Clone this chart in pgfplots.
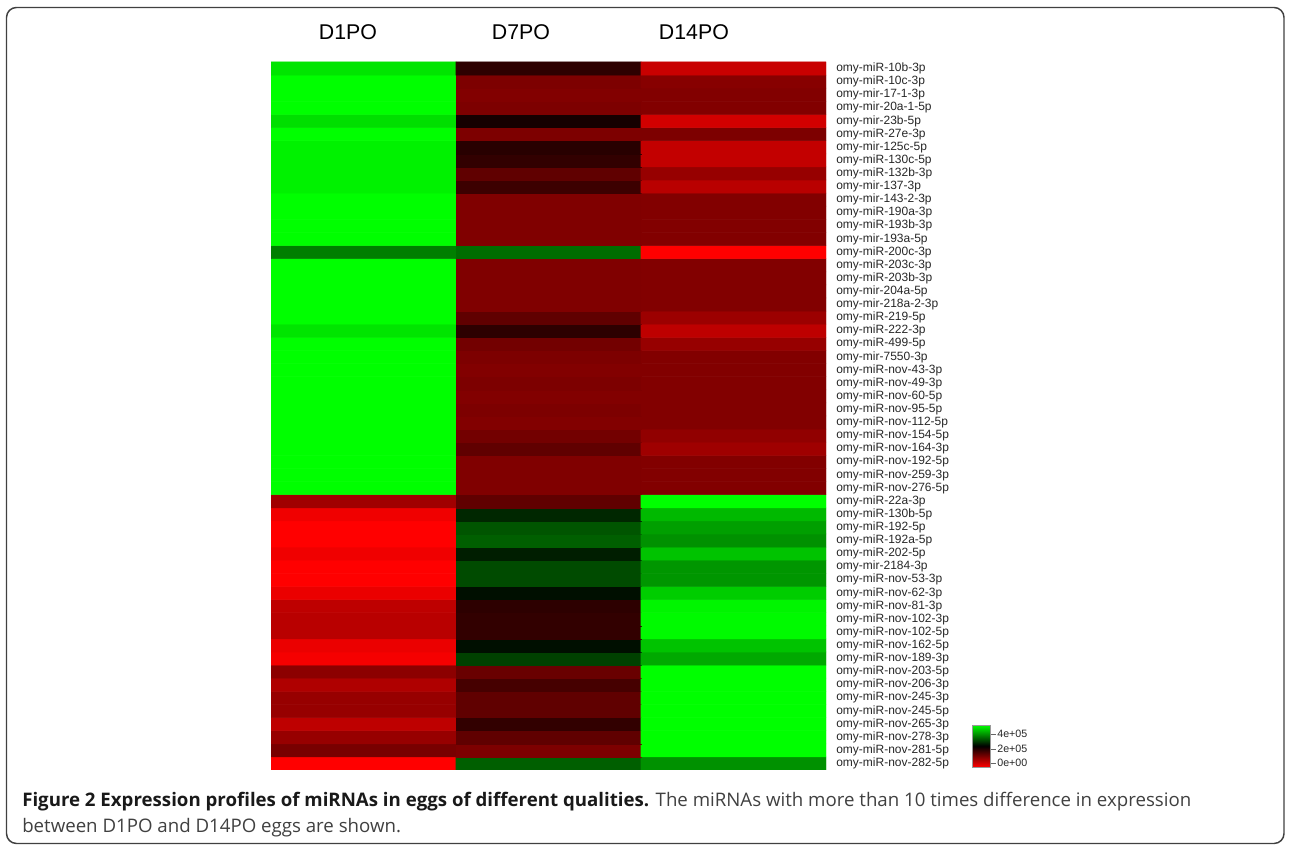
\documentclass[border=0pt]{standalone}
\usepackage{pgfplots}
\pgfplotsset{compat=1.18}
\usepackage{fontspec}
\setmainfont{Liberation Sans}
\newfontfamily\capfont{Open Sans}
% values in units of 1e5 ; y = 54 - row (row 1 at top)
\pgfplotstableread{
x y c
0 0 0
1 0 2.75
2 0 3.14
0 1 1.06
1 1 1.02
2 1 4
0 2 0.82
1 2 1.25
2 2 4
0 3 0.51
1 3 1.61
2 3 4
0 4 0.82
1 4 1.25
2 4 4
0 5 0.82
1 5 1.25
2 5 4
0 6 0.63
1 6 1.45
2 6 4
0 7 0.9
1 7 1.18
2 7 4
0 8 0.08
1 8 2.51
2 8 3.33
0 9 0.16
1 9 2.12
2 9 3.53
0 10 0.55
1 10 1.61
2 10 3.96
0 11 0.55
1 11 1.61
2 11 3.96
0 12 0.51
1 12 1.65
2 12 3.92
0 13 0.16
1 13 2.12
2 13 3.61
0 14 0
1 14 2.59
2 14 3.18
0 15 0
1 15 2.59
2 15 3.18
0 16 0.12
1 16 2.24
2 16 3.53
0 17 0
1 17 2.75
2 17 3.14
0 18 0
1 18 2.67
2 18 3.25
0 19 0.12
1 19 2.31
2 19 3.45
0 20 0.745
1 20 1.25
2 20 4
0 21 4
1 21 1.0
2 21 0.98
0 22 4
1 22 1.0
2 22 0.98
0 23 4
1 23 1.0
2 23 0.98
0 24 4
1 24 1.25
2 24 0.75
0 25 4
1 25 1.1
2 25 0.86
0 26 4
1 26 0.98
2 26 0.98
0 27 4
1 27 1.02
2 27 0.98
0 28 4
1 28 0.98
2 28 0.98
0 29 4
1 29 1.02
2 29 0.98
0 30 4
1 30 0.98
2 30 0.98
0 31 4
1 31 1.02
2 31 0.98
0 32 4
1 32 1.1
2 32 0.82
0 33 3.8
1 33 1.65
2 33 0.51
0 34 4
1 34 1.25
2 34 0.78
0 35 4
1 35 1.0
2 35 0.98
0 36 4
1 36 1.0
2 36 0.98
0 37 4
1 37 1.0
2 37 0.98
0 38 4
1 38 1.0
2 38 0.98
0 39 3.0
1 39 2.86
2 39 0
0 40 4
1 40 1.0
2 40 0.98
0 41 4
1 41 1.0
2 41 0.98
0 42 4
1 42 1.0
2 42 0.98
0 43 4
1 43 1.0
2 43 0.98
0 44 3.9
1 44 1.53
2 44 0.55
0 45 3.9
1 45 1.25
2 45 0.82
0 46 3.9
1 46 1.61
2 46 0.47
0 47 3.9
1 47 1.69
2 47 0.47
0 48 4
1 48 1.02
2 48 1.02
0 49 3.75
1 49 1.84
2 49 0.35
0 50 4
1 50 1.02
2 50 0.98
0 51 4
1 51 0.98
2 51 0.98
0 52 4
1 52 1.02
2 52 0.94
0 53 3.8
1 53 1.65
2 53 0.43
}\heatdata
\begin{document}
% 1 px of the reference = 0.75pt; y in pt from the bottom = (846 - y_px)*0.75
\begin{tikzpicture}
\useasboundingbox (0pt,0pt) rectangle (966.75pt,634.5pt);
\draw[line width=1.1pt, black!75, rounded corners=7.5pt] (4.875pt,1.875pt) rectangle (963pt,628.875pt);
\begin{axis}[
  at={(203.25pt,57pt)}, anchor=south west,
  scale only axis, width=416.25pt, height=531pt,
  xmin=-0.5, xmax=2.5, ymin=-0.5, ymax=53.5,
  enlargelimits=false,
  axis line style={draw=none},
  major tick length=0pt, tick style={draw=none},
  xtick={-0.084,0.851,1.786},
  xticklabels={D1PO,D7PO,D14PO},
  xticklabel pos=right,
  xticklabel style={font=\fontsize{16}{16}\selectfont, anchor=base, yshift=16.5pt, inner sep=0pt},
  ytick={0,...,53},
  yticklabels={omy-miR-nov-282-5p,omy-miR-nov-281-5p,omy-miR-nov-278-3p,omy-miR-nov-265-3p,omy-miR-nov-245-5p,omy-miR-nov-245-3p,omy-miR-nov-206-3p,omy-miR-nov-203-5p,omy-miR-nov-189-3p,omy-miR-nov-162-5p,omy-miR-nov-102-5p,omy-miR-nov-102-3p,omy-miR-nov-81-3p,omy-miR-nov-62-3p,omy-miR-nov-53-3p,omy-mir-2184-3p,omy-miR-202-5p,omy-miR-192a-5p,omy-miR-192-5p,omy-miR-130b-5p,omy-miR-22a-3p,omy-miR-nov-276-5p,omy-miR-nov-259-3p,omy-miR-nov-192-5p,omy-miR-nov-164-3p,omy-miR-nov-154-5p,omy-miR-nov-112-5p,omy-miR-nov-95-5p,omy-miR-nov-60-5p,omy-miR-nov-49-3p,omy-miR-nov-43-3p,omy-mir-7550-3p,omy-miR-499-5p,omy-miR-222-3p,omy-miR-219-5p,omy-mir-218a-2-3p,omy-mir-204a-5p,omy-miR-203b-3p,omy-miR-203c-3p,omy-miR-200c-3p,omy-mir-193a-5p,omy-miR-193b-3p,omy-miR-190a-3p,omy-mir-143-2-3p,omy-mir-137-3p,omy-miR-132b-3p,omy-miR-130c-5p,omy-mir-125c-5p,omy-miR-27e-3p,omy-mir-23b-5p,omy-mir-20a-1-5p,omy-mir-17-1-3p,omy-miR-10c-3p,omy-miR-10b-3p},
  yticklabel pos=right,
  yticklabel style={font=\fontsize{9}{9}\selectfont, text=black!85, anchor=west, inner sep=0pt, xshift=7.5pt},
  colormap={rg}{rgb255=(255,0,0) rgb255=(0,0,0) rgb255=(0,255,0)},
  point meta min=0, point meta max=4,
  colorbar right,
  colorbar style={
    at={(parent axis.south east)}, anchor=south west,
    xshift=101.25pt, yshift=2.25pt,
    width=13.5pt, height=31.5pt,
    ytick={0.38,1.71,3.14}, yticklabels={0e+00,2e+05,4e+05},
    yticklabel pos=right, ytick pos=right,
    yticklabel style={font=\fontsize{8}{8}\selectfont, text=black!85, inner sep=1pt},
    tick align=outside, major tick length=4pt,
    tick style={draw=black!60, line width=0.4pt},
    axis line style={draw=black!40, line width=0.3pt},
  },
]
\addplot[matrix plot*, mesh/cols=3, point meta=explicit] table[x=x, y=y, meta=c] {\heatdata};
\end{axis}
\node[anchor=base west, inner sep=0pt, font=\capfont\fontsize{14}{14}\selectfont, text=black!75] at (16.5pt,29.25pt)
  {\textbf{\color{black!90}Figure 2 Expression profiles of miRNAs in eggs of different qualities.} The miRNAs with more than 10 times difference in expression};
\node[anchor=base west, inner sep=0pt, font=\capfont\fontsize{14}{14}\selectfont, text=black!75] at (16.5pt,9.75pt)
  {between D1PO and D14PO eggs are shown.};
\end{tikzpicture}
\end{document}
